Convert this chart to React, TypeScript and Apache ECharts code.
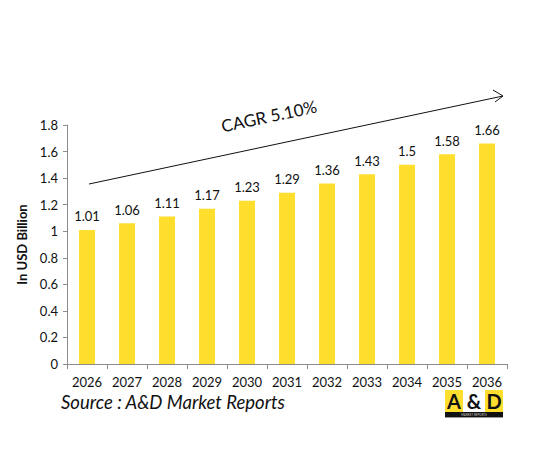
import React, { useEffect, useRef } from 'react';
import * as echarts from 'echarts';

const years = ['2026', '2027', '2028', '2029', '2030', '2031', '2032', '2033', '2034', '2035', '2036'];
const values = [1.01, 1.06, 1.11, 1.17, 1.23, 1.29, 1.36, 1.43, 1.5, 1.58, 1.66];
const cagrLabel = 'CAGR 5.10%';
const sourceLabel = 'Source : A&D Market Reports';
const yName = 'In USD Billion';

const FONT = 'Lato, "Open Sans", sans-serif';
const BAR = '#FFDE2E';

export default function App() {
  const ref = useRef<HTMLDivElement>(null);
  useEffect(() => {
    if (!ref.current) return;
    const chart = echarts.init(ref.current, undefined, { renderer: 'svg' });
    chart.setOption({
      animation: false,
      backgroundColor: '#fff',
      textStyle: { fontFamily: FONT },
      grid: { left: 67, right: 33, top: 125, bottom: 99 },
      xAxis: {
        type: 'category',
        data: years,
        axisLine: { lineStyle: { color: '#8c8c8c' } },
        axisTick: { show: true, length: 5, lineStyle: { color: '#8c8c8c' } },
        axisLabel: { color: '#111', fontSize: 13, margin: 11, fontFamily: FONT },
      },
      yAxis: {
        type: 'value',
        min: 0,
        max: 1.8,
        interval: 0.2,
        name: yName,
        nameLocation: 'middle',
        nameGap: 36,
        nameTextStyle: { color: '#111', fontSize: 13, fontWeight: 'bold', fontFamily: FONT },
        axisLine: { show: true, lineStyle: { color: '#8c8c8c' } },
        axisTick: { show: true, length: 4, lineStyle: { color: '#8c8c8c' } },
        splitLine: { show: false },
        axisLabel: {
          color: '#111', fontSize: 13, margin: 9, fontFamily: FONT,
          formatter: (v: number) => String(Math.round(v * 10) / 10),
        },
      },
      series: [{
        type: 'bar',
        data: values,
        barWidth: 16,
        itemStyle: { color: BAR },
        label: { show: true, position: 'top', distance: 7, color: '#111', fontSize: 13, fontFamily: FONT },
      }],
      graphic: [
        { type: 'line', shape: { x1: 89, y1: 184, x2: 503, y2: 96 }, style: { stroke: '#111', lineWidth: 1 } },
        { type: 'polyline', shape: { points: [[493, 90], [503, 96], [495, 102]] }, style: { stroke: '#111', lineWidth: 1, fill: 'none' } },
        {
          type: 'text', x: 269, y: 116, rotation: 12 * Math.PI / 180,
          style: { text: cagrLabel, fill: '#111', fontSize: 17, fontFamily: FONT, align: 'center', verticalAlign: 'middle' },
        },
        {
          type: 'text', x: 61, y: 402,
          style: { text: sourceLabel, fill: '#111', fontSize: 18.5, fontStyle: 'italic', fontFamily: FONT, verticalAlign: 'middle' },
        },
        {
          type: 'group', x: 445, y: 390,
          children: [
            { type: 'rect', shape: { x: 0, y: 0, width: 18, height: 22 }, style: { fill: BAR } },
            { type: 'rect', shape: { x: 18, y: 0, width: 22, height: 22 }, style: { fill: '#fff' } },
            { type: 'rect', shape: { x: 40, y: 0, width: 18, height: 22 }, style: { fill: BAR } },
            { type: 'rect', shape: { x: 0, y: 22, width: 58, height: 5 }, style: { fill: '#111' } },
            { type: 'rect', shape: { x: 0, y: 27, width: 58, height: 1 }, style: { fill: '#999' } },
            { type: 'text', x: 9, y: 11, style: { text: 'A', fill: '#111', fontSize: 20, fontWeight: 'bold', fontFamily: FONT, align: 'center', verticalAlign: 'middle' } },
            { type: 'text', x: 29, y: 11, style: { text: '&', fill: '#111', fontSize: 20, fontWeight: 'bold', fontFamily: FONT, align: 'center', verticalAlign: 'middle' } },
            { type: 'text', x: 49, y: 11, style: { text: 'D', fill: '#111', fontSize: 20, fontWeight: 'bold', fontFamily: FONT, align: 'center', verticalAlign: 'middle' } },
            { type: 'text', x: 29, y: 24.8, style: { text: 'MARKET REPORTS', fill: '#ccc', fontSize: 3, fontFamily: FONT, align: 'center', verticalAlign: 'middle' } },
          ],
        },
      ],
    });
    return () => { chart.dispose(); };
  }, []);
  return <div ref={ref} style={{ width: 540, height: 463, margin: -8 }} />;
}
